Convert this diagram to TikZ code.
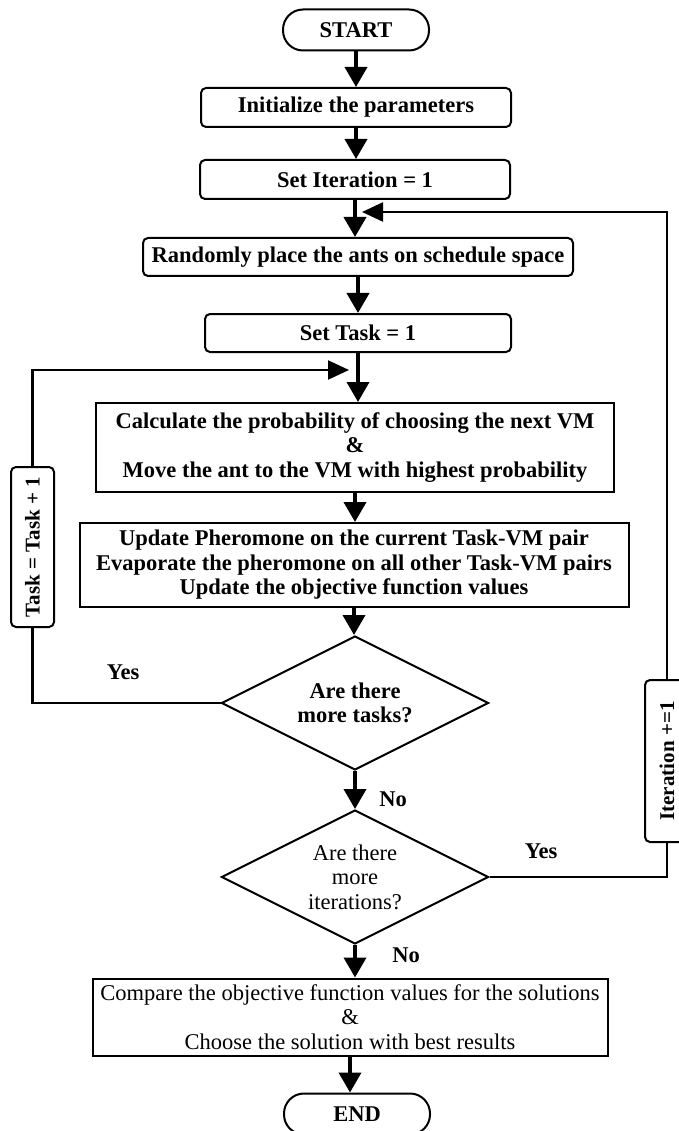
\documentclass[tikz,border=0pt]{standalone}
\usepackage{fontspec}
\setmainfont{Liberation Serif}
\usetikzlibrary{arrows.meta,shapes.geometric,calc}
\begin{document}
\begin{tikzpicture}[x=1pt,y=-1pt,
  every node/.style={font=\fontsize{22.5}{24.5}\selectfont\bfseries, align=center, inner sep=0pt},
  term/.style={draw, line width=2pt, rounded corners=20pt, minimum width=146pt, minimum height=41pt},
  rproc/.style={draw, line width=2pt, rounded corners=5pt, minimum height=39pt},
  sproc/.style={draw, line width=2pt},
  dec/.style={draw, diamond, shape aspect=2, line width=2pt, minimum width=267pt, minimum height=134pt},
  arr/.style={line width=3.8pt, -{Triangle[length=20pt,width=22pt]}},
  link/.style={line width=2.2pt},
  larr/.style={line width=2.2pt, -{Triangle[length=21pt,width=19pt]}},
  lab/.style={font=\fontsize{22.5}{24.5}\selectfont\bfseries},
  plain/.style={font=\fontsize{22.5}{24.5}\selectfont\mdseries},
  rot/.style={font=\fontsize{21}{24}\selectfont\bfseries}
]
\useasboundingbox (0,0) rectangle (678,1131);
\node[term] (start) at (356,30) {START};
\node[rproc, minimum width=310pt] (init) at (356,107.5) {Initialize the parameters};
\node[rproc, minimum width=310pt] (iter) at (355,179.5) {Set Iteration = 1};
\node[rproc, minimum width=430pt, minimum height=38pt] (rand) at (358,257) {Randomly place the ants on schedule space};
\node[rproc, minimum width=306pt, minimum height=38pt] (task) at (358,333) {Set Task = 1};
\node[sproc, minimum width=518pt, minimum height=89pt] (calc) at (355,447.5) {Calculate the probability of choosing the next VM\\\&\\Move the ant to the VM with highest probability};
\node[sproc, minimum width=549pt, minimum height=84pt] (upd) at (354,565) {Update Pheromone on the current Task-VM pair\\Evaporate the pheromone on all other Task-VM pairs\\Update the objective function values};
\node[dec] (d1) at (355,703) {Are there\\more tasks?};
\node[dec, plain] (d2) at (355,877) {Are there\\more\\iterations?};
\node[sproc, plain, minimum width=515pt, minimum height=77pt] (cmp) at (350,1017) {Compare the objective function values for the solutions\\\&\\Choose the solution with best results};
\node[term] (end) at (357,1114) {END};
\node[rproc, rot, rotate=90, minimum width=160pt, minimum height=43pt] (tinc) at (32.5,547) {Task = Task + 1};
\node[rproc, rot, rotate=90, minimum width=162pt, minimum height=44pt] (iinc) at (667,761) {Iteration +=1};
\node[lab] (yes1) at (123,672) {Yes};
\node[lab] (no1) at (393,799) {No};
\node[lab] (yes2) at (541,851) {Yes};
\node[lab] (no2) at (406,955) {No};
\coordinate (tjoin) at (349,370);
\coordinate (ijoin) at (362,212);
\draw[arr] (start.south) -- (start.south |- init.north);
\draw[arr] (init.south) -- (init.south |- iter.north);
\draw[arr] (iter.south) -- (iter.south |- rand.north);
\draw[arr] (rand.south) -- (rand.south |- task.north);
\draw[arr] (task.south) -- (task.south |- calc.north);
\draw[arr] (calc.south) -- (calc.south |- upd.north);
\draw[arr] (upd.south) -- (upd.south |- d1.north);
\draw[arr] (d1.south) -- (d1.south |- d2.north);
\draw[arr] (d2.south) -- (d2.south |- cmp.north);
\draw[arr] (cmp.south) -- (cmp.south |- end.north);
\draw[link] (d1.west) -| (tinc.west);
\draw[larr] (tinc.east) |- (tjoin);
\draw[link] (d2.east) -| (iinc.west);
\draw[larr] (iinc.east) |- (ijoin);
\end{tikzpicture}
\end{document}
